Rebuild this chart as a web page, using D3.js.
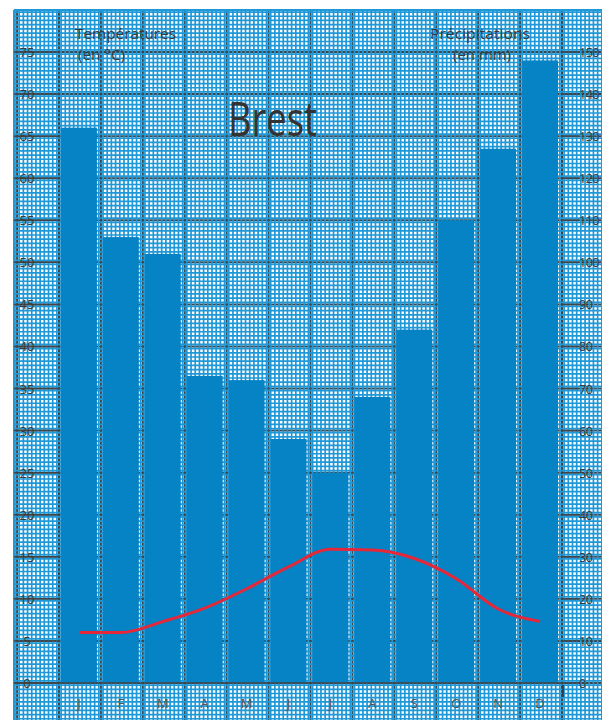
<!DOCTYPE html>
<html>
<head>
<meta charset="utf-8">
<script src="https://cdn.jsdelivr.net/npm/d3@7"></script>
<style>
  body { margin: 0; background: #fff; }
  svg { display: block; }
  text { font-family: "Open Sans", sans-serif; fill: #3a3a3a; }
</style>
</head>
<body>
<script>
var w = 602;
var h = 720;

var months = ["J", "F", "M", "A", "M", "J", "J", "A", "S", "O", "N", "D"];
var precipitation = [132, 106, 102, 73, 72, 58, 50, 68, 84, 110, 127, 148];
var temperature = [6.0, 6.0, 7.3, 8.9, 11.2, 13.8, 15.9, 15.8, 14.8, 12.4, 8.8, 7.3];
var tempTicks = d3.range(0, 80, 5);
var precipTicks = d3.range(0, 160, 10);

var paper = {x: 14, y: 10};

var xScale = d3.scaleBand()
				.domain(d3.range(months.length))
				.range([59, 562]);

var yTemp = d3.scaleLinear()
				.domain([0, 75])
				.range([683, 52]);

var yPrec = d3.scaleLinear()
				.domain([0, 150])
				.range([683, 52]);

var svg = d3.select("body")
			.append("svg")
			.attr("width", w)
			.attr("height", h);

// graph paper
svg.append("rect")
	.attr("x", paper.x)
	.attr("y", paper.y)
	.attr("width", w - paper.x)
	.attr("height", h - paper.y)
	.attr("fill", "#fff");

var step = xScale.step();
var ystep = yTemp(0) - yTemp(5);

// dark major lines (under the blue mesh)
var majorX = d3.range(-1, 14).map(function(i) { return 59 + i * step; })
				.filter(function(x) { return x > paper.x && x < w; });
var majorY = d3.range(-1, 17).map(function(v) { return yTemp(v * 5); })
				.filter(function(y) { return y > paper.y && y < h; });

svg.append("g").selectAll("line")
	.data(majorX)
	.enter()
	.append("line")
	.attr("x1", function(d) { return d; })
	.attr("x2", function(d) { return d; })
	.attr("y1", paper.y)
	.attr("y2", h)
	.attr("stroke", "#444")
	.attr("stroke-width", 2);

svg.append("g").selectAll("line")
	.data(majorY)
	.enter()
	.append("line")
	.attr("x1", paper.x)
	.attr("x2", w)
	.attr("y1", function(d) { return d; })
	.attr("y2", function(d) { return d; })
	.attr("stroke", "#444")
	.attr("stroke-width", 2);

// blue millimetre mesh
var minorX = d3.range(-120, 140).map(function(j) { return 59 + (j + 0.5) * step / 10; })
				.filter(function(x) { return x > paper.x && x < w; });
var minorY = d3.range(-20, 170).map(function(j) { return yTemp(0) - (j + 0.5) * ystep / 10; })
				.filter(function(y) { return y > paper.y && y < h; });

svg.append("g").selectAll("line")
	.data(minorX)
	.enter()
	.append("line")
	.attr("x1", function(d) { return d; })
	.attr("x2", function(d) { return d; })
	.attr("y1", paper.y)
	.attr("y2", h)
	.attr("stroke", "#1f98d8")
	.attr("stroke-width", 1.7);

svg.append("g").selectAll("line")
	.data(minorY)
	.enter()
	.append("line")
	.attr("x1", paper.x)
	.attr("x2", w)
	.attr("y1", function(d) { return d; })
	.attr("y2", function(d) { return d; })
	.attr("stroke", "#1f98d8")
	.attr("stroke-width", 1.7);

// edge lines
svg.append("line")
	.attr("x1", paper.x).attr("x2", paper.x)
	.attr("y1", paper.y).attr("y2", h)
	.attr("stroke", "#1f98d8").attr("stroke-width", 2);
svg.append("line")
	.attr("x1", paper.x).attr("x2", w)
	.attr("y1", paper.y).attr("y2", paper.y)
	.attr("stroke", "#1f98d8").attr("stroke-width", 2);

// bars
svg.selectAll("rect.bar")
	.data(precipitation)
	.enter()
	.append("rect")
	.attr("class", "bar")
	.attr("x", function(d, i) { return xScale(i) + 2; })
	.attr("y", function(d) { return yPrec(d); })
	.attr("width", xScale.bandwidth() - 6)
	.attr("height", function(d) { return yPrec(0) - yPrec(d); })
	.attr("fill", "#0683c5");

// axis line at 0
svg.append("line")
	.attr("x1", paper.x)
	.attr("x2", 562)
	.attr("y1", yTemp(0))
	.attr("y2", yTemp(0))
	.attr("stroke", "#444")
	.attr("stroke-width", 1.6);
svg.append("line")
	.attr("x1", 563)
	.attr("x2", 563)
	.attr("y1", yTemp(0) + 2)
	.attr("y2", yTemp(0) + 14)
	.attr("stroke", "#333")
	.attr("stroke-width", 1.6);

// left ticks
svg.append("g").selectAll("line")
	.data(tempTicks)
	.enter()
	.append("line")
	.attr("x1", paper.x)
	.attr("x2", 59)
	.attr("y1", function(d) { return yTemp(d); })
	.attr("y2", function(d) { return yTemp(d); })
	.attr("stroke", "#444")
	.attr("stroke-width", 1.5);

svg.append("g").selectAll("text")
	.data(tempTicks)
	.enter()
	.append("text")
	.text(function(d) { return d; })
	.attr("x", 27)
	.attr("y", function(d) { return yTemp(d) + 5; })
	.attr("text-anchor", "middle")
	.attr("font-size", 13);

// right ticks
svg.append("g").selectAll("line")
	.data(precipTicks)
	.enter()
	.append("line")
	.attr("x1", 562)
	.attr("x2", 579)
	.attr("y1", function(d) { return yPrec(d); })
	.attr("y2", function(d) { return yPrec(d); })
	.attr("stroke", "#444")
	.attr("stroke-width", 1.5);

svg.append("g").selectAll("text")
	.data(precipTicks)
	.enter()
	.append("text")
	.text(function(d) { return d; })
	.attr("x", 579)
	.attr("y", function(d) { return yPrec(d) + 5; })
	.attr("text-anchor", "start")
	.attr("font-size", 12.5)
	.attr("letter-spacing", -0.5);

// month labels
svg.append("g").selectAll("text")
	.data(months)
	.enter()
	.append("text")
	.text(function(d) { return d; })
	.attr("x", function(d, i) { return xScale(i) + xScale.bandwidth() / 2 - 1; })
	.attr("y", 708)
	.attr("text-anchor", "middle")
	.attr("font-size", 13)
	.style("fill", "#555");

// temperature line
var line = d3.line()
	.x(function(d, i) { return xScale(i) + xScale.bandwidth() / 2 - 1; })
	.y(function(d) { return yTemp(d); })
	.curve(d3.curveMonotoneX);

svg.append("path")
	.datum(temperature)
	.attr("d", line)
	.attr("fill", "none")
	.attr("stroke", "#e4283a")
	.attr("stroke-width", 3);

// titles
svg.append("text")
	.text("Températures")
	.attr("x", 75)
	.attr("y", 39)
	.attr("font-size", 15)
	.attr("textLength", 101)
	.attr("lengthAdjust", "spacingAndGlyphs");
svg.append("text")
	.text("(en °C)")
	.attr("x", 78)
	.attr("y", 60)
	.attr("font-size", 15)
	.attr("textLength", 47)
	.attr("lengthAdjust", "spacingAndGlyphs");

svg.append("text")
	.text("Précipitations")
	.attr("x", 480)
	.attr("y", 39)
	.attr("text-anchor", "middle")
	.attr("font-size", 15)
	.attr("textLength", 100)
	.attr("lengthAdjust", "spacingAndGlyphs");
svg.append("text")
	.text("(en mm)")
	.attr("x", 482)
	.attr("y", 60)
	.attr("text-anchor", "middle")
	.attr("font-size", 15)
	.attr("textLength", 58)
	.attr("lengthAdjust", "spacingAndGlyphs");

svg.append("text")
	.text("Brest")
	.attr("x", 228)
	.attr("y", 136)
	.attr("font-size", 48)
	.attr("textLength", 89)
	.attr("lengthAdjust", "spacingAndGlyphs")
	.style("fill", "#333");
</script>
</body>
</html>
